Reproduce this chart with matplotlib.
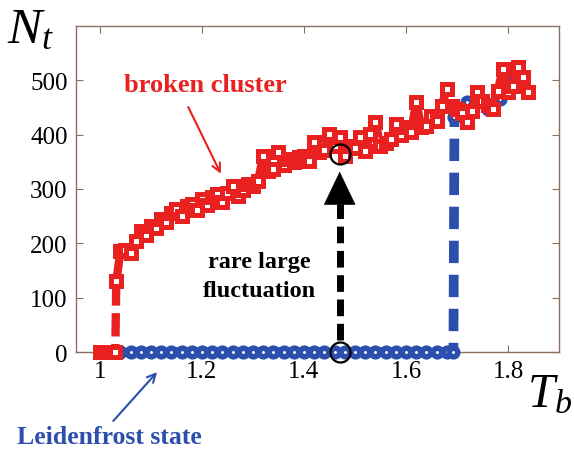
import matplotlib
matplotlib.use("Agg")
import matplotlib.pyplot as plt

# --- data ---
# broken cluster (red squares)
red_T = [1.00, 1.01, 1.02, 1.03, 1.032, 1.04, 1.05, 1.06, 1.07, 1.08, 1.09,
         1.10, 1.11, 1.12, 1.13, 1.14, 1.15, 1.16, 1.17, 1.18, 1.19,
         1.20, 1.21, 1.22, 1.23, 1.24, 1.25, 1.26, 1.27, 1.28, 1.29,
         1.30, 1.31, 1.32, 1.33, 1.34, 1.35, 1.36, 1.37, 1.38, 1.39,
         1.40, 1.41, 1.42, 1.43, 1.44, 1.45, 1.46, 1.47, 1.48, 1.49,
         1.50, 1.51, 1.52, 1.53, 1.54, 1.55, 1.56, 1.57, 1.58, 1.59,
         1.60, 1.61, 1.62, 1.63, 1.64, 1.65, 1.66, 1.67, 1.68, 1.69,
         1.70, 1.71, 1.72, 1.73, 1.74, 1.75, 1.76, 1.77, 1.78, 1.79,
         1.80, 1.81, 1.82, 1.83, 1.84]
red_N = [0, 0, 0, 0, 130, 185, 188, 182, 205, 222, 215,
         232, 228, 245, 240, 255, 263, 250, 268, 272, 262,
         282, 270, 285, 290, 276, 292, 306, 288, 298, 310,
         306, 315, 361, 333, 337, 368, 345, 355, 350, 358,
         361, 352, 387, 368, 372, 401, 380, 396, 361, 380,
         375, 396, 370, 401, 423, 379, 385, 392, 420, 400,
         414, 405, 460, 414, 416, 435, 425, 453, 484, 453,
         447, 440, 423, 444, 479, 462, 455, 447, 481, 521,
         479, 490, 525, 506, 479]

# Leidenfrost state (blue circles)
blue_T = [1.00, 1.02, 1.04, 1.06, 1.08, 1.10, 1.12, 1.14, 1.16, 1.18,
          1.20, 1.22, 1.24, 1.26, 1.28, 1.30, 1.32, 1.34, 1.36, 1.38,
          1.40, 1.42, 1.44, 1.46, 1.48, 1.50, 1.52, 1.54, 1.56, 1.58,
          1.60, 1.62, 1.64, 1.66, 1.68, 1.693,
          1.695, 1.706, 1.72, 1.739, 1.76, 1.784, 1.794, 1.81, 1.827, 1.84]
blue_N = [0] * 36 + [432, 444, 460, 466, 447, 466, 503, 499, 490, 481]

# rare fluctuation marker
fluct_T = 1.47
fluct_N = [0, 365]

xticks = [1, 1.2, 1.4, 1.6, 1.8]
xticklabels = ['1', '1.2', '1.4', '1.6', '1.8']
yticks = [0, 100, 200, 300, 400, 500]

red = '#e8201f'
blue = '#2c4fae'
frame = '#8b6f63'

plt.rcParams['font.family'] = ['Liberation Serif', 'DejaVu Serif']
plt.rcParams['mathtext.fontset'] = 'custom'
plt.rcParams['mathtext.rm'] = 'Liberation Serif'
plt.rcParams['mathtext.it'] = 'Liberation Serif:italic'

fig = plt.figure(figsize=(5.74, 4.52), dpi=100)
ax = fig.add_axes([76 / 574, 1 - 353 / 452, 483 / 574, 326 / 452])

ax.plot(blue_T, blue_N, '--o', color=blue, lw=7, dashes=(2.3, 1.2),
        ms=6.2, mfc='white', mec=blue, mew=4.0, clip_on=False, zorder=3)
ax.plot(red_T, red_N, '--s', color=red, lw=6, dashes=(2.8, 0.9),
        ms=6.6, mfc='white', mec=red, mew=3.6, clip_on=False, zorder=4)

# black dashed arrow + circles
ax.plot([fluct_T, fluct_T], [22, 272], color='black', lw=5, dashes=(2.4, 1.1), zorder=5)
ax.annotate('', xy=(fluct_T, 332), xytext=(fluct_T, 270),
            arrowprops=dict(arrowstyle='-|>,head_length=1.15,head_width=0.55',
                            color='black', lw=0.5, mutation_scale=20,
                            shrinkA=0, shrinkB=0), zorder=6)
ax.plot([fluct_T] * 2, fluct_N, 'o', ms=14.4, mfc='none', mec='black', mew=1.6,
        clip_on=False, zorder=7)

ax.text(1.312, 140, 'rare large\nfluctuation', ha='center', va='center',
        fontsize=17.5, fontweight='bold', linespacing=1.45, zorder=8)

ax.text(1.206, 492, 'broken cluster', ha='center', va='center', color=red,
        fontsize=19, fontweight='bold')
ax.annotate('', xy=(1.237, 328), xytext=(1.173, 451),
            arrowprops=dict(arrowstyle='->,head_length=0.6,head_width=0.3',
                            color=red, lw=1.5, shrinkA=0, shrinkB=0))

ax.text(1.018, -155, 'Leidenfrost state', ha='center', va='center', color=blue,
        fontsize=18.5, fontweight='bold', clip_on=False)
ax.annotate('', xy=(1.112, -37), xytext=(1.026, -127), annotation_clip=False,
            arrowprops=dict(arrowstyle='->,head_length=0.6,head_width=0.3',
                            color=blue, lw=1.5, shrinkA=0, shrinkB=0))

ax.set_xlim(0.953, 1.9)
ax.set_ylim(0, 600)
ax.set_xticks(xticks)
ax.set_xticklabels(xticklabels)
ax.set_yticks(yticks)
ax.tick_params(direction='in', length=5, width=0.8, color=frame,
               top=True, right=True, labelsize=18, pad=6)
for s in ax.spines.values():
    s.set_color(frame)
    s.set_linewidth(1.0)

fig.text(7 / 574, 1 - 43 / 452, r'$N_t$', fontsize=37)
fig.text(527 / 574, 1 - 407 / 452, r'$T_b$', fontsize=35)

fig.savefig('out.png', dpi=100)
